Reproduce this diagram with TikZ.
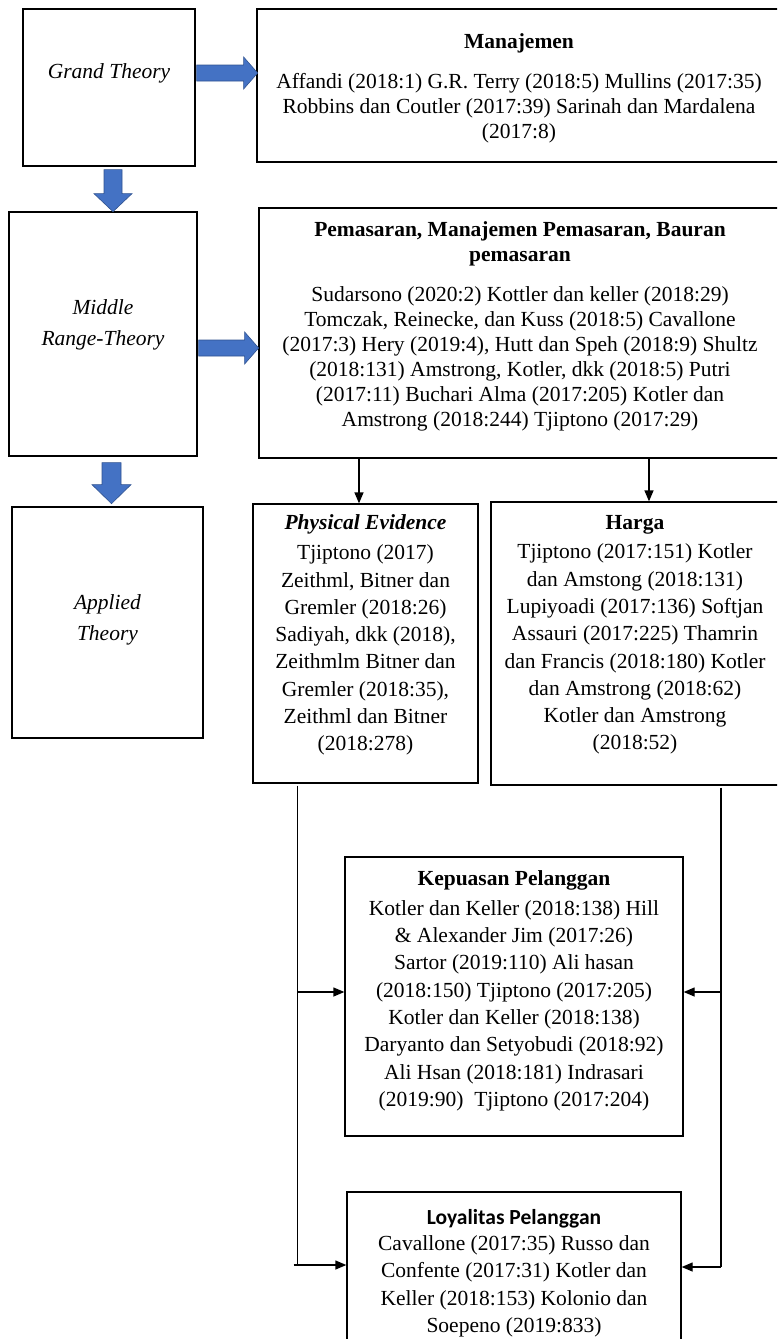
\documentclass[tikz,border=0pt]{standalone}
\usepackage{fontspec}
\setmainfont{Liberation Serif}
\newfontfamily\calibri{Carlito}
\usetikzlibrary{arrows.meta,positioning}
\definecolor{birukotak}{RGB}{68,114,196}
\definecolor{birutepi}{RGB}{47,82,143}
\tikzset{
  kotak/.style={draw,line width=1.3pt,inner sep=0pt},
  isi/.style={align=center,inner sep=0pt,font=\fontsize{21.5}{25}\selectfont},
  isib/.style={align=center,inner sep=0pt,font=\fontsize{21.5}{27.3}\selectfont},
  miring/.style={align=center,inner sep=0pt,font=\fontsize{21.5}{31}\selectfont\itshape},
  panah/.style={fill=birukotak,draw=birutepi,line width=0.6pt}
}
\begin{document}
\begin{tikzpicture}[x=1pt,y=-1pt,>={Triangle[length=11pt,width=9pt]},line width=1.3pt]
\useasboundingbox (0,0) rectangle (777,1339);
\clip (0,0) rectangle (777,1339);
% kolom kiri: tingkat teori
\node[kotak,minimum width=172pt,minimum height=157pt] (gt) at (109,87.5) {};
\node[miring,below=55pt of gt.north] (gtt) {Grand Theory};
\node[kotak,minimum width=188pt,minimum height=244pt] (mrt) at (103,334) {};
\node[miring,below=88pt of mrt.north] (mrtt) {Middle\\Range-Theory};
\node[kotak,minimum width=191pt,minimum height=231pt] (at) at (107.5,622.5) {};
\node[miring,below=88pt of at.north] (att) {Applied\\Theory};
% kotak kanan atas
\node[kotak,minimum width=524pt,minimum height=153pt] (man) at (519,85.5) {};
\node[isi,below=25pt of man.north] (mant) {\textbf{Manajemen}\\[15pt]
Affandi (2018:1) G.R. Terry (2018:5) Mullins (2017:35)\\
Robbins dan Coutler (2017:39) Sarinah dan Mardalena\\
(2017:8)};
\node[kotak,minimum width=522pt,minimum height=250pt] (pem) at (520,333) {};
\node[isi,below=14pt of pem.north] (pemt) {\textbf{Pemasaran, Manajemen Pemasaran, Bauran}\\
\textbf{pemasaran}\\[15pt]
Sudarsono (2020:2) Kottler dan keller (2018:29)\\
Tomczak, Reinecke, dan Kuss (2018:5) Cavallone\\
(2017:3) Hery (2019:4), Hutt dan Speh (2018:9) Shultz\\
(2018:131) Amstrong, Kotler, dkk (2018:5) Putri\\
(2017:11) Buchari Alma (2017:205) Kotler dan\\
Amstrong (2018:244) Tjiptono (2017:29)};
% variabel
\node[kotak,minimum width=225pt,minimum height=279pt] (pe) at (365.5,643.5) {};
\node[isib,below=11pt of pe.north] (pet) {\textbf{\textit{Physical Evidence}}\\[2.5pt]
Tjiptono (2017)\\
Zeithml, Bitner dan\\
Gremler (2018:26)\\
Sadiyah, dkk (2018),\\
Zeithmlm Bitner dan\\
Gremler (2018:35),\\
Zeithml dan Bitner\\
(2018:278)};
\node[kotak,minimum width=288pt,minimum height=283pt] (har) at (635,643.5) {};
\node[isib,below=13pt of har.north] (hart) {\textbf{Harga}\\[2.5pt]
Tjiptono (2017:151) Kotler\\
dan Amstong (2018:131)\\
Lupiyoadi (2017:136) Softjan\\
Assauri (2017:225) Thamrin\\
dan Francis (2018:180) Kotler\\
dan Amstrong (2018:62)\\
Kotler dan Amstrong\\
(2018:52)};
\node[kotak,minimum width=338pt,minimum height=279pt] (kep) at (514,996.5) {};
\node[isib,below=14pt of kep.north] (kept) {\textbf{Kepuasan Pelanggan}\\[2pt]
Kotler dan Keller (2018:138) Hill\\
\& Alexander Jim (2017:26)\\
Sartor (2019:110) Ali hasan\\
(2018:150) Tjiptono (2017:205)\\
Kotler dan Keller (2018:138)\\
Daryanto dan Setyobudi (2018:92)\\
Ali Hsan (2018:181) Indrasari\\
(2019:90)\ \ Tjiptono (2017:204)};
\node[kotak,minimum width=334pt,minimum height=153pt] (loy) at (514,1268.5) {};
\node[isib,below=17pt of loy.north] (loyt) {{\calibri\bfseries Loyalitas Pelanggan}\\[-1pt]
Cavallone (2017:35) Russo dan\\
Confente (2017:31) Kotler dan\\
Keller (2018:153) Kolonio dan\\
Soepeno (2019:833)};
% panah biru
\draw[panah] ([yshift=14.5pt]gt.east) ++(1,-8) -- ++(47,0) -- ++(0,-8) -- ++(14,16) -- ++(-14,16) -- ++(0,-8) -- ++(-47,0) -- cycle;
\draw[panah] ([yshift=-14pt]mrt.east) ++(1,-8) -- ++(46,0) -- ++(0,-8) -- ++(14,16) -- ++(-14,16) -- ++(0,-8) -- ++(-46,0) -- cycle;
\draw[panah] ([xshift=4pt,yshift=-3pt]gt.south) ++(-9,0) -- ++(0,24) -- ++(-10,0) -- ++(19,18) -- ++(19,-18) -- ++(-10,0) -- ++(0,-24) -- cycle;
\draw[panah] ([xshift=8.5pt,yshift=-6pt]mrt.south) ++(-9.5,0) -- ++(0,22) -- ++(-10,0) -- ++(19.5,19) -- ++(19.5,-19) -- ++(-10,0) -- ++(0,-22) -- cycle;
% panah hitam
\coordinate (pin) at ([xshift=-6.5pt]pe.north);
\coordinate (hin) at ([xshift=14pt]har.north);
\draw[->] (pin |- pem.south) -- (pin);
\draw[->] (hin |- pem.south) -- (hin);
\coordinate (kw) at ([yshift=4.5pt]kep.west);
\coordinate (ke) at ([yshift=4.5pt]kep.east);
\coordinate (lw) at ([yshift=3.5pt]loy.west);
\coordinate (le) at ([yshift=1.5pt]loy.east);
\coordinate (tl) at ([xshift=-68pt,yshift=-2pt]pe.south);
\coordinate (tr) at ([xshift=86pt,yshift=-2pt]har.south);
\draw (tl) -- (tl |- lw);
\draw[->] (tl |- kw) -- (kw);
\draw[->] ([xshift=-4pt]tl |- lw) -- (lw);
\draw (tr) -- (tr |- le);
\draw[->] (tr |- ke) -- (ke);
\draw[->] (tr |- le) -- (le);
\end{tikzpicture}
\end{document}
